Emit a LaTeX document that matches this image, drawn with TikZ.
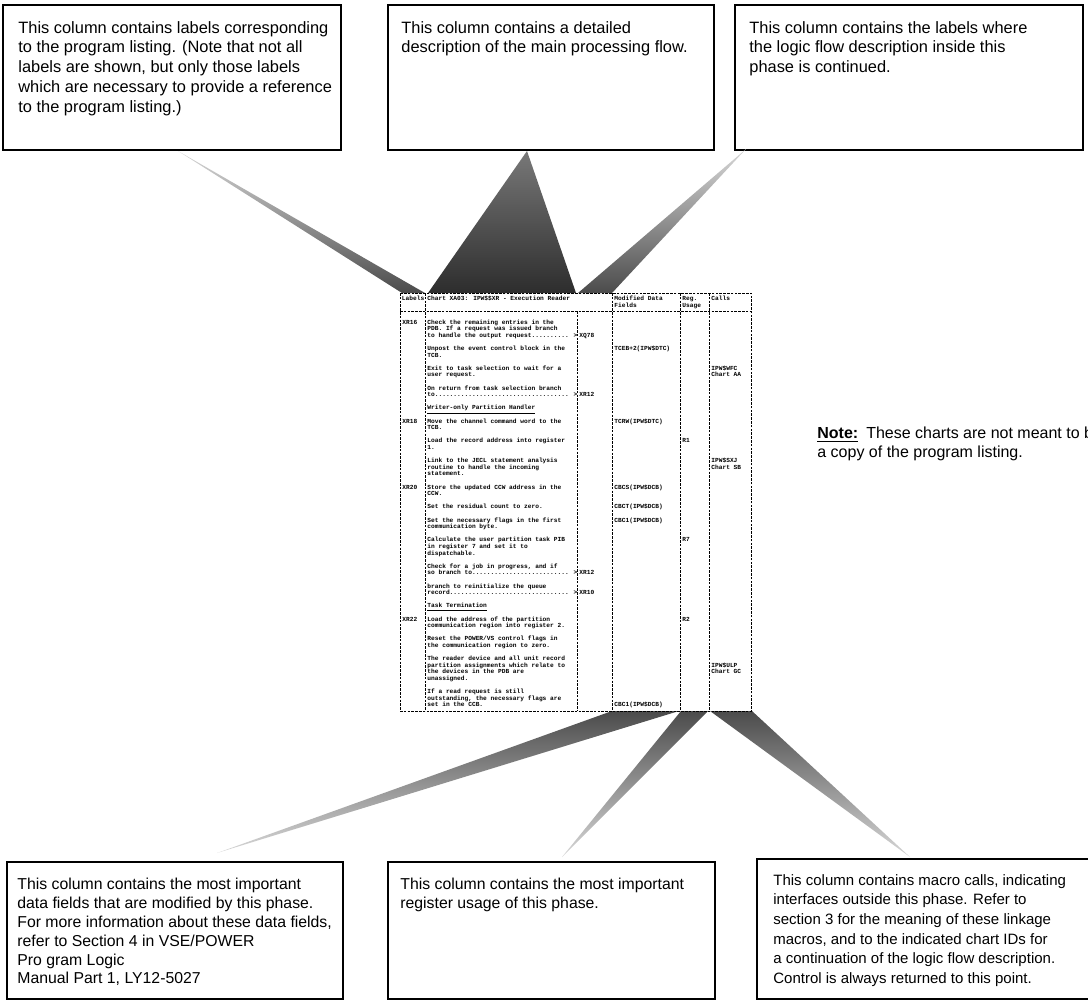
\documentclass[tikz,border=0pt]{standalone}
\usepackage{fontspec}
\setmainfont{Liberation Sans}
\newfontfamily\listfont{Liberation Mono}
\definecolor{BeamDark} {RGB}{75,75,75}
\definecolor{BeamLight}{RGB}{215,215,215}
\definecolor{BeamDeep} {RGB}{45,45,45}
\definecolor{BeamMid}  {RGB}{120,120,120}

\begin{document}
\begin{tikzpicture}[x=0.5pt,y=-0.5pt,
  notebox/.style={draw,line width=1pt},
  boxtext/.style={anchor=north west,inner sep=0pt,align=left,
                  font=\fontsize{8.2}{9.85}\selectfont},
  chartline/.style={line width=0.35pt,dash pattern=on 1.3pt off 0.6pt},
  listing/.style={anchor=base west,inner sep=0pt,
                  font=\listfont\fontsize{3.1}{3.3}\selectfont\bfseries},
  beamdown/.style={top color=BeamLight,bottom color=BeamDark},
  beamup/.style={top color=BeamDark,bottom color=BeamLight}]
  \useasboundingbox (0,0) rectangle (1088,1002);
  %% Explanation boxes
  \draw[notebox] (3,5) rectangle (341,150);
  \draw[notebox] (388,5) rectangle (714,150);
  \draw[notebox] (735,5) rectangle (1083,150);
  \draw[notebox] (7,862) rectangle (343,999);
  \draw[notebox] (388,862) rectangle (715,999);
  \draw[notebox] (757,859) rectangle (1100,999);
  \node[boxtext] (labtext) at (18,21)
       {This column contains labels corresponding\\
        to the program listing. (Note that not all\\
        labels are shown, but only those labels\\
        which are necessary to provide a reference\\
        to the program listing.)};
  \node[boxtext] (dsctext) at (401,21)
       {This column contains a detailed\\
        description of the main processing flow.};
  \node[boxtext] (context) at (749,21)
       {This column contains the labels where\\
        the logic flow description inside this\\
        phase is continued.};
  \node[boxtext,font=\fontsize{7.9}{9.4}\selectfont] (fldtext) at (17,878)
       {This column contains the most important\\
        data fields that are modified by this phase.\\
        For more information about these data fields,\\
        refer to Section 4 in VSE/POWER\\
        Pro gram Logic\\
        Manual Part 1, LY12-5027};
  \node[boxtext,font=\fontsize{7.9}{9.4}\selectfont] (regtext) at (400,878)
       {This column contains the most important\\
        register usage of this phase.};
  \node[boxtext,font=\fontsize{7.5}{9.8}\selectfont] (caltext) at (773,874)
       {This column contains macro calls, indicating\\
        interfaces outside this phase. Refer to\\
        section 3 for the meaning of these linkage\\
        macros, and to the indicated chart IDs for\\
        a continuation of the logic flow description.\\
        Control is always returned to this point.};
  \node[boxtext,font=\fontsize{8}{9.5}\selectfont] (note) at (817,426)
       {\underline{\textbf{Note:}}\enspace These charts are not meant to be\\
        a copy of the program listing.};
  %% Beam ends
  \coordinate (labtip) at (178,151);
  \coordinate (dsctip) at (527,151);
  \coordinate (contip) at (746,149);
  \coordinate (fldtip) at (217,853);
  \coordinate (regtip) at (562,857);
  \coordinate (caltip) at (910,857);
  %% Beams
  \shade[beamdown] (labtip) -- (425,293) -- (402,293) -- cycle;
  \shade[top color=BeamMid,bottom color=BeamDeep]
       (dsctip) -- (576,293) -- (428,293) -- cycle;
  \shade[beamdown] (contip) -- (612,293) -- (578,293) -- cycle;
  \shade[beamup] (fldtip) -- (612,711) -- (679,711) -- cycle;
  \shade[beamup] (regtip) -- (681,711) -- (708,711) -- cycle;
  \shade[beamup] (caltip) -- (710,711) -- (752,711) -- cycle;
  %% Chart frame
  \draw[chartline] (400,293) rectangle (751,711);
  \draw[chartline] (400,311) -- (751,311);
  \foreach \x in {425,612,680,709}
    \draw[chartline] (\x,293) -- (\x,711);
  \draw[chartline] (577,311) -- (577,711);
  %% Chart header
  \node[listing] (hlab) at (401.5,300) {Labels};
  \node[listing] (hdsc) at (427,300) {Chart XA03: IPW\$\$XR - Execution Reader};
  \node[listing] (hfld) at (614,300) {Modified Data};
  \node[listing] (hfld2) at (614,307) {Fields};
  \node[listing] (hreg) at (682,300) {Reg.};
  \node[listing] (hreg2) at (682,307) {Usage};
  \node[listing] (hcal) at (711,300) {Calls};
  %% Description column
  \foreach \n/\t in {1/{Check the remaining entries in the},
      2/{PDB. If a request was issued branch},
      3/{to handle the output request.......... >},
      5/{Unpost the event control block in the}, 6/{TCB.},
      8/{Exit to task selection to wait for a}, 9/{user request.},
      11/{On return from task selection branch},
      12/{to.................................... >},
      14/{\underline{Writer-only Partition Handler}},
      16/{Move the channel command word to the}, 17/{TCB.},
      19/{Load the record address into register}, 20/{1.},
      22/{Link to the JECL statement analysis},
      23/{routine to handle the incoming}, 24/{statement.},
      26/{Store the updated CCW address in the}, 27/{CCW.},
      29/{Set the residual count to zero.},
      31/{Set the necessary flags in the first}, 32/{communication byte.},
      34/{Calculate the user partition task PIB},
      35/{in register 7 and set it to}, 36/{dispatchable.},
      38/{Check for a job in progress, and if},
      39/{so branch to.......................... >},
      41/{branch to reinitialize the queue},
      42/{record................................ >},
      44/{\underline{Task Termination}},
      46/{Load the address of the partition},
      47/{communication region into register 2.},
      49/{Reset the POWER/VS control flags in},
      50/{the communication region to zero.},
      52/{The reader device and all unit record},
      53/{partition assignments which relate to},
      54/{the devices in the PDB are}, 55/{unassigned.},
      57/{If a read request is still},
      58/{outstanding, the necessary flags are},
      59/{set in the CCB.}}
    \node[listing] (d\n) at (427,{317.4+6.6*\n}) {\t};
  %% Labels and continuation labels
  \foreach \n/\t in {1/XR16,16/XR18,26/XR20,46/XR22}
    \node[listing] (l\n) at (402,{317.4+6.6*\n}) {\t};
  \foreach \n/\t in {3/XQ78,12/XR12,39/XR12,42/XR10}
    \node[listing] (k\n) at (579,{317.4+6.6*\n}) {\t};
  %% Modified data fields
  \foreach \n/\t in {5/{TCEB+2(IPW\$DTC)},16/{TCRW(IPW\$DTC)},
      26/{CBCS(IPW\$DCB)},29/{CBCT(IPW\$DCB)},31/{CBC1(IPW\$DCB)},
      59/{CBC1(IPW\$DCB)}}
    \node[listing] (f\n) at (614,{317.4+6.6*\n}) {\t};
  %% Register usage
  \foreach \n/\t in {19/R1,34/R7,46/R2}
    \node[listing] (r\n) at (682,{317.4+6.6*\n}) {\t};
  %% Calls
  \foreach \n/\t in {8/{IPW\$WFC},9/{Chart AA},22/{IPW\$SXJ},23/{Chart SB},
      53/{IPW\$ULP},54/{Chart GC}}
    \node[listing] (c\n) at (711,{317.4+6.6*\n}) {\t};
\end{tikzpicture}
\end{document}
